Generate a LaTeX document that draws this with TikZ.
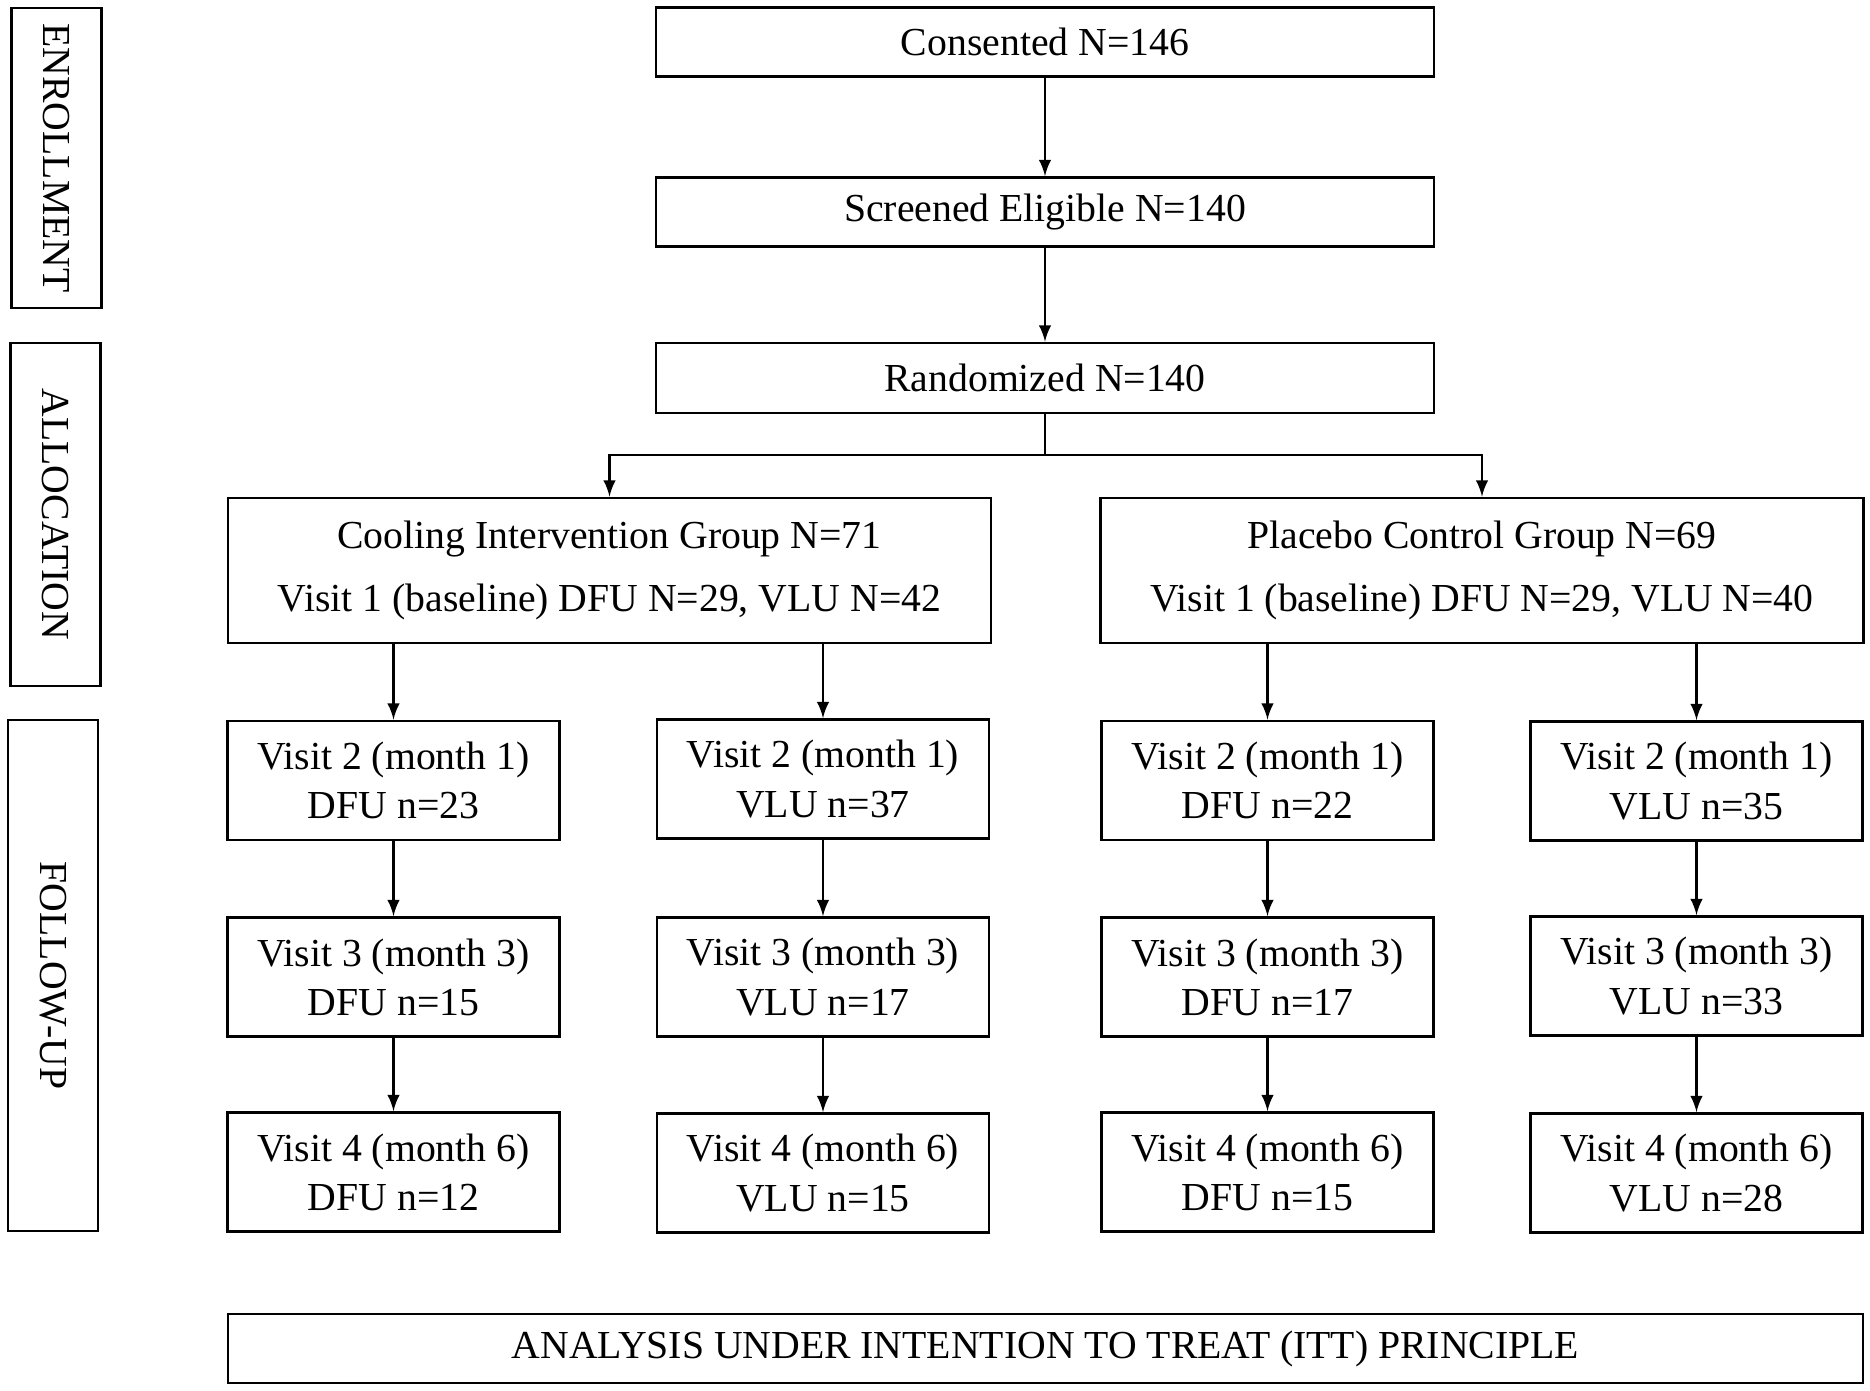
\documentclass[tikz,border=0pt]{standalone}
\usepackage{fontspec}
\setmainfont{Liberation Serif}
\usetikzlibrary{positioning}

\begin{document}
\begin{tikzpicture}[>=latex, line width=0.6pt, font=\fontsize{11.3}{14}\selectfont,
    box/.style={draw, line width=0.8pt, inner sep=0pt, align=center, minimum width=7.78cm, minimum height=0.69cm},
    group/.style={box, minimum width=7.63cm, minimum height=1.45cm, font=\fontsize{11.3}{18}\selectfont},
    visit/.style={box, minimum width=3.32cm, minimum height=1.19cm},
    stage/.style={box, rotate=-90, minimum height=0.9cm}]
      \useasboundingbox (0,0) rectangle (18.7,-13.9);

      % stages
      \node[stage, minimum width=3.0cm] (e) at (0.565,-1.58) {ENROLLMENT};
      \node[stage, minimum width=3.43cm] (a) at (0.555,-5.145) {ALLOCATION};
      \node[stage, minimum width=5.11cm] (f) at (0.53,-9.755) {FOLLOW-UP};

      % main flow
      \node[box] (1) at (10.45,-0.42) {Consented N=146};
      \node[box] (2) at (10.45,-2.12) {Screened Eligible N=140};
      \node[box, minimum height=0.7cm] (3) at (10.45,-3.78) {Randomized N=140};
      \node[group] (4) at (6.095,-5.705) {Cooling Intervention Group N=71\\Visit 1 (baseline) DFU N=29, VLU N=42};
      \node[group] (5) at (14.82,-5.705) {Placebo Control Group N=69\\Visit 1 (baseline) DFU N=29, VLU N=40};

      % follow-up visits
      \node[visit] (6) at (3.935,-7.805) {Visit 2 (month 1)\\DFU n=23};
      \node[visit] (7) at (8.23,-7.79) {Visit 2 (month 1)\\VLU n=37};
      \node[visit] (8) at (12.675,-7.805) {Visit 2 (month 1)\\DFU n=22};
      \node[visit] (9) at (16.965,-7.81) {Visit 2 (month 1)\\VLU n=35};
      \node[visit] (10) at (3.935,-9.77) {Visit 3 (month 3)\\DFU n=15};
      \node[visit] (11) at (8.23,-9.77) {Visit 3 (month 3)\\VLU n=17};
      \node[visit] (12) at (12.675,-9.77) {Visit 3 (month 3)\\DFU n=17};
      \node[visit] (13) at (16.965,-9.76) {Visit 3 (month 3)\\VLU n=33};
      \node[visit] (14) at (3.935,-11.72) {Visit 4 (month 6)\\DFU n=12};
      \node[visit] (15) at (8.23,-11.73) {Visit 4 (month 6)\\VLU n=15};
      \node[visit] (16) at (12.675,-11.72) {Visit 4 (month 6)\\DFU n=15};
      \node[visit] (17) at (16.965,-11.73) {Visit 4 (month 6)\\VLU n=28};

      \node[box, minimum width=16.35cm] (18) at (10.455,-13.485) {ANALYSIS UNDER INTENTION TO TREAT (ITT) PRINCIPLE};

      \draw[->] (1) -- (2);
      \draw[->] (2) -- (3);
      \draw[->] (3.south) -- ++(0,-0.41) -| (4.north);
      \draw[->] (3.south) -- ++(0,-0.41) -| (5.north);

      \draw[->] (6.north |- 4.south) -- (6.north);
      \draw[->] (7.north |- 4.south) -- (7.north);
      \draw[->] (8.north |- 5.south) -- (8.north);
      \draw[->] (9.north |- 5.south) -- (9.north);
      \draw[->] (6) -- (10);
      \draw[->] (7) -- (11);
      \draw[->] (8) -- (12);
      \draw[->] (9) -- (13);
      \draw[->] (10) -- (14);
      \draw[->] (11) -- (15);
      \draw[->] (12) -- (16);
      \draw[->] (13) -- (17);
    \end{tikzpicture}
\end{document}
